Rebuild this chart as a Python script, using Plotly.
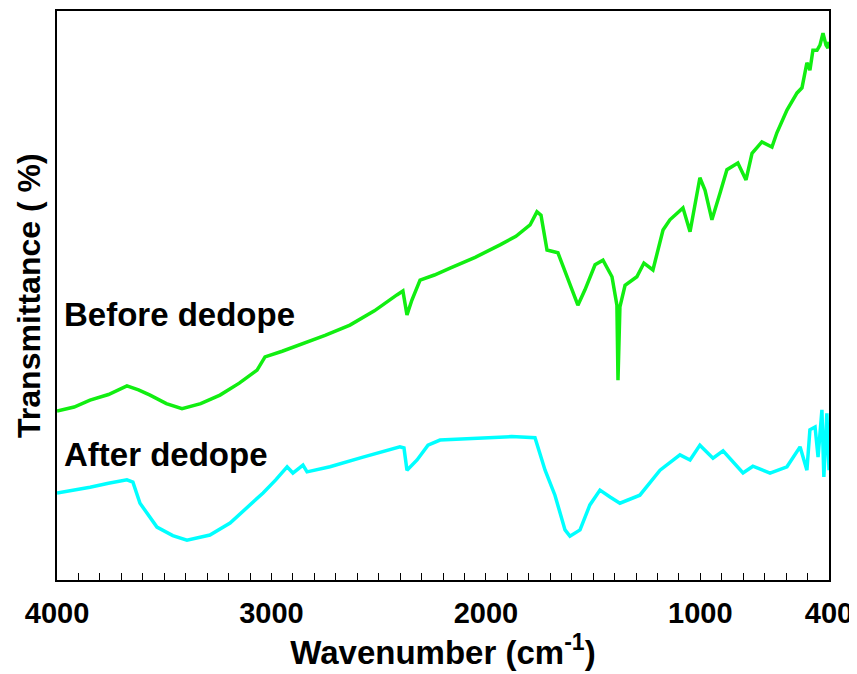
import plotly.graph_objects as go

# Before dedope (green)
before_wn = [4000, 3920, 3846, 3760, 3674, 3620, 3566, 3490, 3417, 3330, 3240, 3150, 3067, 3030,
             2950, 2867, 2750, 2634, 2520, 2415, 2387, 2368, 2345, 2307, 2240, 2167, 2050, 1934,
             1860, 1794, 1762, 1743, 1715, 1664, 1620, 1571, 1538, 1491, 1454, 1412, 1389,
             1384, 1375, 1351, 1296, 1263, 1221, 1174, 1142, 1081, 1048, 1016, 1002, 978, 946,
             908, 876, 825, 787, 759, 713, 666, 643, 596, 549, 526, 512, 503, 489, 475, 456,
             442, 428, 414, 405, 400]
before_t = [29.7, 30.4, 31.6, 32.6, 34.1, 33.4, 32.5, 31.0, 30.1, 31.0, 32.5, 34.6, 36.9, 39.2,
            40.2, 41.3, 43.0, 44.8, 47.3, 50.1, 50.8, 46.6, 49.2, 52.7, 53.6, 54.8, 56.7, 58.9,
            60.4, 62.4, 64.7, 64.1, 58.0, 57.5, 53.0, 48.3, 51.0, 55.4, 56.2, 53.3, 48.3,
            35.1, 48.0, 51.8, 53.3, 55.7, 54.5, 61.5, 63.3, 65.4, 61.2, 67.7, 70.7, 68.5, 63.3,
            68.0, 72.1, 73.3, 70.3, 75.0, 77.0, 76.1, 78.6, 82.6, 85.6, 86.5, 89.3, 90.9, 89.6,
            93.1, 93.1, 94.0, 96.1, 94.0, 93.5, 94.6]

# After dedope (cyan)
after_wn = [4000, 3920, 3846, 3760, 3674, 3646, 3613, 3534, 3460, 3394, 3287, 3193, 3110, 3039,
            2980, 2927, 2900, 2853, 2834, 2727, 2573, 2401, 2382, 2368, 2321, 2270, 2214, 2100,
            1981, 1880, 1771, 1724, 1678, 1631, 1608, 1561, 1515, 1468, 1421, 1375, 1282, 1188,
            1095, 1048, 1002, 941, 894, 801, 755, 675, 596, 535, 503, 489, 465, 451, 433, 424,
            410, 400]
after_t = [15.3, 15.8, 16.3, 17.0, 17.6, 17.2, 13.5, 9.3, 7.8, 7.0, 7.9, 10.0, 12.8, 15.3,
           17.6, 19.9, 18.8, 20.2, 19.0, 19.9, 21.6, 23.4, 23.2, 19.3, 21.1, 23.7, 24.6, 24.8,
           25.0, 25.2, 25.0, 19.3, 14.9, 8.8, 7.7, 8.8, 13.2, 15.8, 14.6, 13.5, 14.9, 19.3,
           22.0, 21.1, 23.7, 21.4, 22.7, 18.8, 20.0, 18.8, 19.9, 23.4, 19.3, 26.4, 26.9, 21.6,
           29.9, 18.1, 29.3, 19.3]

tick_vals = list(range(400, 4001, 100))
major_labels = {4000: "4000", 3000: "3000", 2000: "2000", 1000: "1000", 400: "400"}
tick_text = [major_labels.get(v, "") for v in tick_vals]

labels = ["Before dedope", "After dedope"]
label_y = [46.7, 22.1]

font_family = "Liberation Sans, Arial, sans-serif"

fig = go.Figure()
fig.add_trace(go.Scatter(x=before_wn, y=before_t, mode="lines",
                         line=dict(color="#11EE11", width=3.5), showlegend=False))
fig.add_trace(go.Scatter(x=after_wn, y=after_t, mode="lines",
                         line=dict(color="#00FFFF", width=3.5), showlegend=False))

for text, yv in zip(labels, label_y):
    fig.add_annotation(x=3975, y=yv, xref="x", yref="y", text="<b>%s</b>" % text,
                       showarrow=False, xanchor="left", yanchor="middle",
                       font=dict(family=font_family, size=33, color="black"))

fig.add_annotation(x=-0.037, y=0.5, xref="paper", yref="paper",
                   text="<b>Transmittance ( %)</b>", textangle=-90, showarrow=False,
                   xanchor="center", yanchor="middle",
                   font=dict(family=font_family, size=32, color="black"))

# page body adds an 8px offset, so the figure is sized to fit the window
fig.update_layout(
    width=849, height=666,
    margin=dict(l=49, r=28, t=3, b=94),
    paper_bgcolor="white", plot_bgcolor="white",
    xaxis=dict(range=[4000, 400], autorange=False, automargin=False,
               tickmode="array", tickvals=tick_vals, ticktext=tick_text,
               ticks="inside", ticklen=7, tickwidth=1, tickcolor="black",
               showline=True, linewidth=2, linecolor="black", mirror=True,
               showgrid=False, zeroline=False,
               tickfont=dict(family=font_family, size=29, color="black", weight="bold"),
               ticklabelstandoff=6,
               title=dict(text="<b>Wavenumber (cm<sup>-1</sup>)</b>", standoff=10,
                          font=dict(family=font_family, size=33, color="black"))),
    yaxis=dict(range=[0, 100], autorange=False, automargin=False,
               showticklabels=False, ticks="",
               showline=True, linewidth=2, linecolor="black", mirror=True,
               showgrid=False, zeroline=False),
)

fig.write_html("out.html")
